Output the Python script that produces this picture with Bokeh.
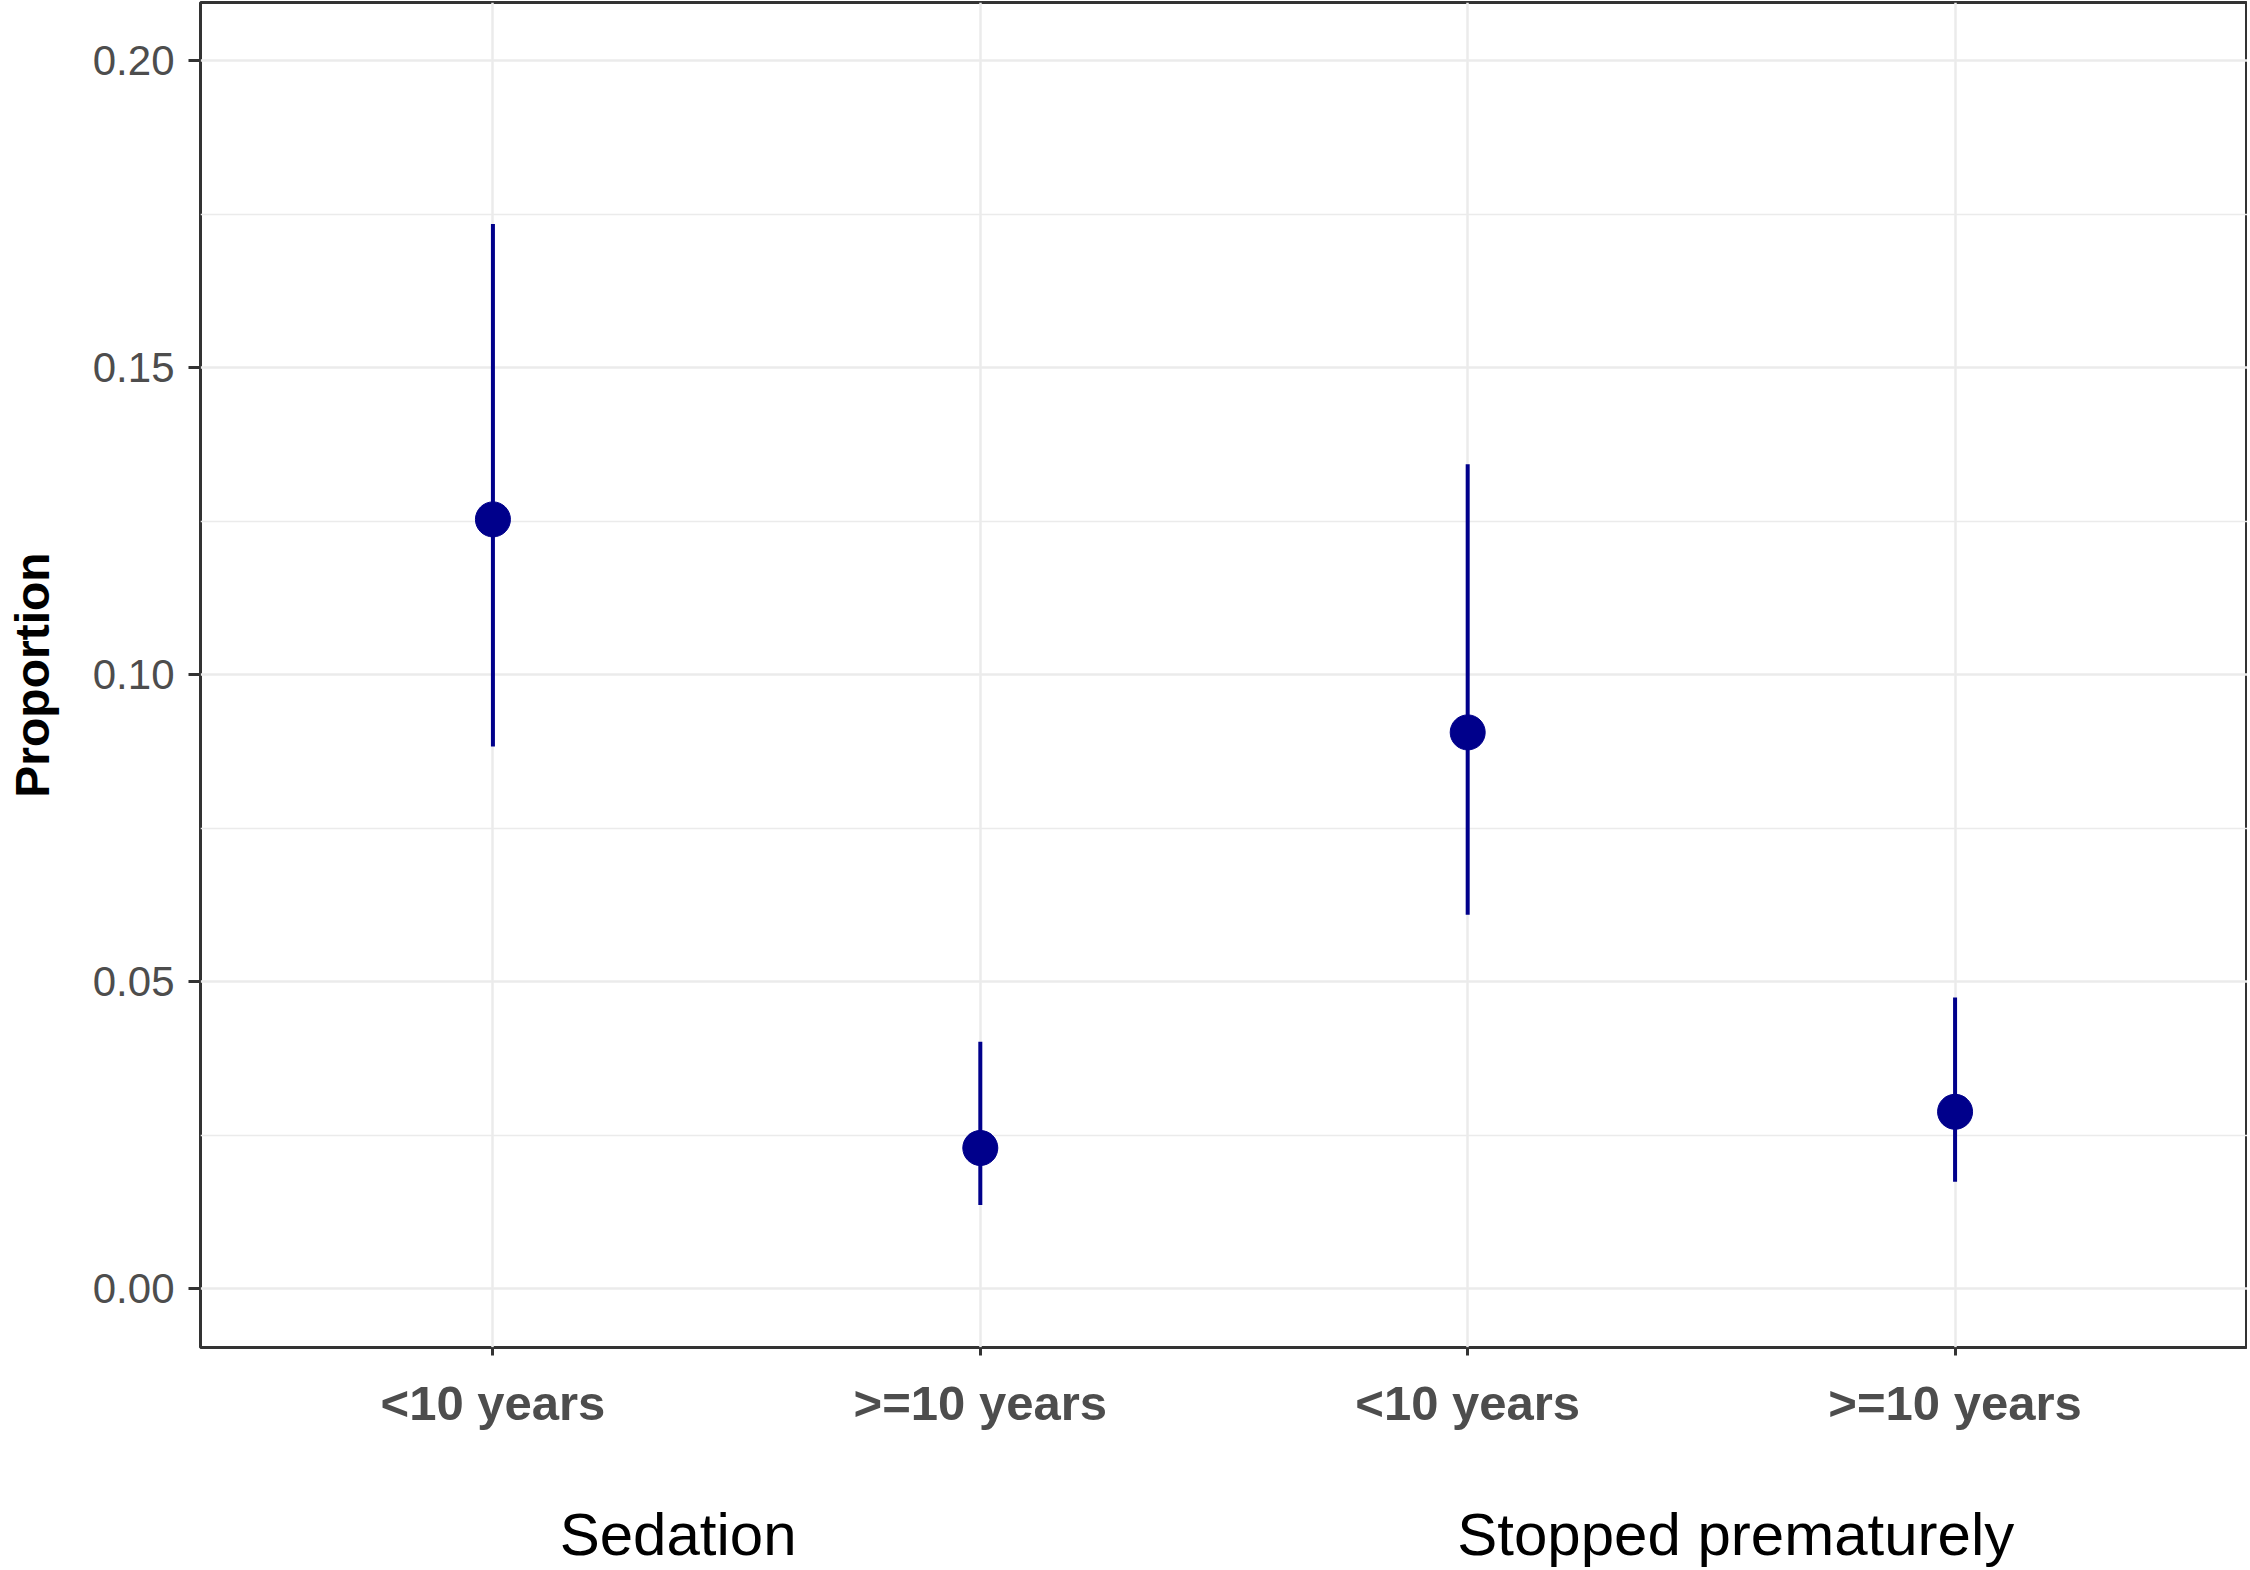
from bokeh.plotting import figure
from bokeh.models import (ColumnDataSource, FixedTicker, LinearAxis, Range1d,
                          NumeralTickFormatter)
from bokeh.embed import file_html
from bokeh.resources import INLINE

# ---- data ----
groups = ["Sedation", "Sedation", "Stopped prematurely", "Stopped prematurely"]
age_groups = ["<10 years", ">=10 years", "<10 years", ">=10 years"]
proportion = [0.1253, 0.0229, 0.0906, 0.0288]
lower = [0.0883, 0.0136, 0.0609, 0.0174]
upper = [0.1734, 0.0402, 0.1343, 0.0474]
y_ticks = [0.00, 0.05, 0.10, 0.15, 0.20]
y_minor = [0.025, 0.075, 0.125, 0.175]
group_names = ["Sedation", "Stopped prematurely"]

xpos = [i + 1 for i in range(len(age_groups))]
src = ColumnDataSource(dict(x=xpos, y=proportion, lo=lower, hi=upper,
                            age=age_groups, grp=groups))

FONT = "Liberation Sans"
COL = "#00008B"

p = figure(width=2247, height=1560, output_backend="svg", toolbar_location=None,
           x_range=Range1d(0.4, 4.6), y_range=Range1d(-0.0096, 0.2095),
           frame_width=2047, frame_height=1345,
           min_border_left=200, min_border_right=0, min_border_top=2,
           min_border_bottom=0)
p.background_fill_color = "white"
p.border_fill_color = "white"
p.outline_line_color = "#333333"
p.outline_line_width = 3

# grids
p.xgrid.ticker = FixedTicker(ticks=xpos)
p.xgrid.grid_line_color = "#EBEBEB"
p.xgrid.grid_line_width = 2.5
p.ygrid.ticker = FixedTicker(ticks=y_ticks, minor_ticks=y_minor)
p.ygrid.grid_line_color = "#EBEBEB"
p.ygrid.grid_line_width = 2.5
p.ygrid.minor_grid_line_color = "#EBEBEB"
p.ygrid.minor_grid_line_width = 1.5

# y axis
ya = p.yaxis[0]
ya.ticker = FixedTicker(ticks=y_ticks, minor_ticks=y_minor)
ya.formatter = NumeralTickFormatter(format="0.00")
ya.axis_line_color = None
ya.major_tick_line_color = "#333333"
ya.major_tick_line_width = 3
ya.major_tick_out = 12
ya.major_tick_in = 0
ya.minor_tick_line_color = None
ya.major_label_text_font = FONT
ya.major_label_text_font_size = "42px"
ya.major_label_text_color = "#4D4D4D"
ya.major_label_standoff = 14
ya.axis_label = "Proportion"
ya.axis_label_text_font = FONT
ya.axis_label_text_font_size = "48px"
ya.axis_label_text_font_style = "bold"
ya.axis_label_text_color = "black"
ya.axis_label_standoff = 31

# x axis (age categories)
xa = p.xaxis[0]
xa.ticker = FixedTicker(ticks=xpos)
xa.major_label_overrides = {x: a for x, a in zip(xpos, age_groups)}
xa.axis_line_color = None
xa.major_tick_line_color = "#333333"
xa.major_tick_line_width = 3
xa.major_tick_out = 8
xa.major_tick_in = 0
xa.minor_tick_line_color = None
xa.major_label_text_font = FONT
xa.major_label_text_font_size = "49px"
xa.major_label_text_font_style = "bold"
xa.major_label_text_color = "#4D4D4D"
xa.major_label_standoff = 20

# second x axis for group names
grp_pos = [1.38, 3.55]
ga = LinearAxis(ticker=FixedTicker(ticks=grp_pos),
                major_label_overrides={x: g for x, g in zip(grp_pos, group_names)})
ga.axis_line_color = None
ga.major_tick_line_color = None
ga.minor_tick_line_color = None
ga.major_tick_out = 0
ga.major_tick_in = 0
ga.major_label_text_font = FONT
ga.major_label_text_font_size = "60px"
ga.major_label_text_color = "black"
ga.major_label_standoff = 68
p.add_layout(ga, "below")

# error bars and points
p.segment(x0="x", y0="lo", x1="x", y1="hi", source=src,
          line_color=COL, line_width=4)
p.scatter(x="x", y="y", source=src, size=35, marker="circle",
          fill_color=COL, line_color=COL)

open("out.html", "w").write(file_html(p, INLINE))
